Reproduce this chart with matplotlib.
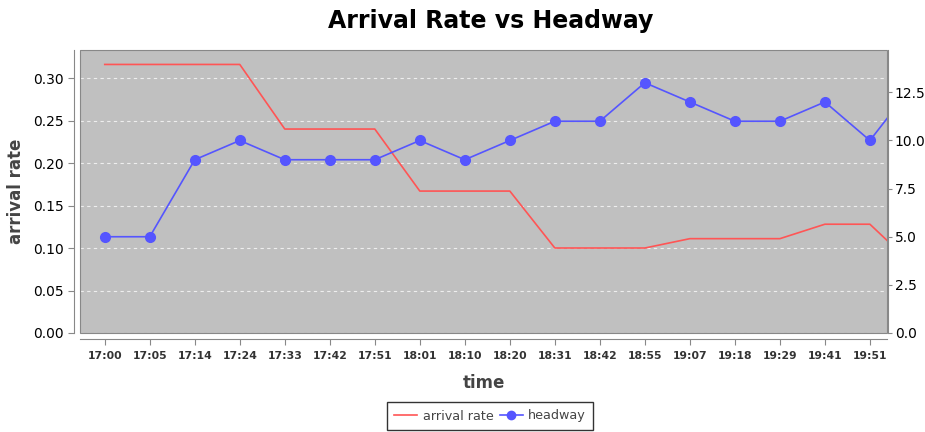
import matplotlib
matplotlib.use("Agg")
import matplotlib.pyplot as plt
from matplotlib.lines import Line2D
from matplotlib.patches import Rectangle

times = ["17:00", "17:05", "17:14", "17:24", "17:33", "17:42", "17:51", "18:01", "18:10",
         "18:20", "18:31", "18:42", "18:55", "19:07", "19:18", "19:29", "19:41", "19:51", ""]
arrival_rate = [0.316, 0.316, 0.316, 0.316, 0.240, 0.240, 0.240, 0.167, 0.167,
                0.167, 0.100, 0.100, 0.100, 0.111, 0.111, 0.111, 0.128, 0.128, 0.078]
headway = [5, 5, 9, 10, 9, 9, 9, 10, 9, 10, 11, 11, 13, 12, 11, 11, 12, 10, 13]

left_ticks = [0.00, 0.05, 0.10, 0.15, 0.20, 0.25, 0.30]
right_ticks = [0.0, 2.5, 5.0, 7.5, 10.0, 12.5]

fig = plt.figure(figsize=(9.25, 4.32), dpi=100)
ax = fig.add_axes([80/925, 1 - 333/432, (887 - 80)/925, (333 - 50)/432])
ax.set_facecolor("#C0C0C0")
ax2 = ax.twinx()

x = list(range(len(times)))
ax.plot(x, arrival_rate, color="#FF5555", lw=1.2, zorder=3)
ax2.plot(x, headway, color="#5555FF", lw=1.2, marker="o", ms=7, zorder=3)

ax.set_xlim(-0.55, 17.38)
ax.set_ylim(0, 0.333)
ax2.set_ylim(0, 14.7)

ax.set_xticks(x[:18])
ax.set_xticklabels(times[:18])
ax.set_yticks(left_ticks)
ax.set_yticklabels([f"{v:.2f}" for v in left_ticks], fontsize=10, color="#444444")
ax2.set_yticks(right_ticks)
ax2.set_yticklabels([f"{v:.1f}" for v in right_ticks], fontsize=7.6, color="#444444")

ax.yaxis.grid(True, color="#EEEEEE", ls=(0, (3, 3)), lw=0.8)
ax.set_axisbelow(True)

for a in (ax, ax2):
    for s in a.spines.values():
        s.set_color("#888888")
        s.set_linewidth(0.8)
ax.spines["left"].set_position(("outward", 4))
ax.spines["bottom"].set_position(("outward", 4))
ax2.spines["right"].set_position(("outward", 1))
ax2.spines["left"].set_visible(False)
ax2.spines["bottom"].set_visible(False)
ax2.spines["top"].set_visible(False)
ax.spines["top"].set_visible(False)
ax.spines["right"].set_visible(False)
ax2.patch.set_visible(False)
ax.add_patch(Rectangle((0, 0), 1, 1, transform=ax.transAxes, fill=False,
                       edgecolor="#888888", lw=0.8, zorder=5, clip_on=False))

ax.tick_params(axis="both", color="#888888", length=4, width=0.8)
ax.tick_params(axis="x", pad=5, labelsize=7.8, labelcolor="#333333")
ax2.tick_params(axis="y", color="#888888", length=3, width=0.8, pad=1.5)

ax.set_ylabel("arrival rate", fontsize=12, fontweight="bold", color="#444444", labelpad=6)
ax.set_xlabel("time", fontsize=12, fontweight="bold", color="#444444", labelpad=9)
fig.text(491/925, 1 - 21/432, "Arrival Rate vs Headway", fontsize=17, fontweight="bold",
         ha="center", va="center")

handles = [Line2D([], [], color="#FF5555", lw=1.2),
           Line2D([], [], color="#5555FF", lw=1.2, marker="o", ms=6)]
leg = fig.legend(handles, ["arrival rate", "headway"], loc="center",
                 bbox_to_anchor=(490/925, 1 - 416/432), ncol=2, fontsize=9.2,
                 frameon=True, fancybox=False, handlelength=1.8, handletextpad=0.4,
                 columnspacing=0.5, borderpad=0.55)
leg.get_frame().set_edgecolor("black")
leg.get_frame().set_linewidth(1.0)
for t in leg.get_texts():
    t.set_color("#444444")

fig.canvas.draw()
for t in ax.xaxis.get_majorticklabels():
    t.set_fontweight("bold")
    t.set_fontfamily("DejaVu Sans")

fig.savefig("out.png", dpi=100)
